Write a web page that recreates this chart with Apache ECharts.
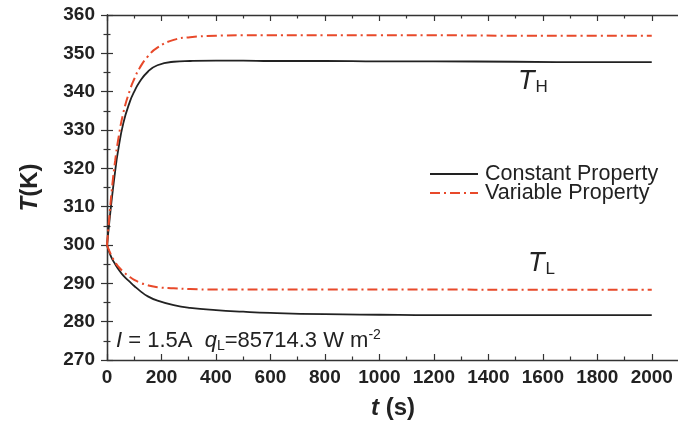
<!DOCTYPE html>
<html><head><meta charset="utf-8">
<script src="https://cdn.jsdelivr.net/npm/echarts@6/dist/echarts.min.js"></script>
<style>html,body{margin:0;padding:0;background:#fff}#c{width:678px;height:423px}</style>
</head><body><div id="c"></div>
<script>
const times = [0,10,20,30,40,60,85,100,120,150,185,245,305,400,500,600,800,1000,1200,1500,1800,2000];
const constantTH = [300,307,313.5,319.3,324.3,331.8,337.6,340.0,342.6,345.2,346.9,347.8,348.0,348.1,348.1,348.0,348.0,347.9,347.9,347.8,347.7,347.7];
const variableTH = [300,308.5,316,322,327,334.5,340.6,343.3,346.2,349.2,351.5,353.5,354.2,354.6,354.7,354.7,354.7,354.7,354.7,354.6,354.6,354.6];
const constantTL = [300,297.8,296.2,295.0,293.9,292.0,290.3,289.3,288.1,286.6,285.5,284.3,283.6,283.0,282.6,282.3,281.95,281.8,281.7,281.7,281.7,281.7];
const variableTL = [300,298.2,296.7,295.5,294.5,293.0,291.6,290.9,290.2,289.5,289.0,288.7,288.5,288.4,288.4,288.4,288.4,288.4,288.4,288.3,288.3,288.3];
const xTicks = {min:0, max:2100, interval:200};
const yTicks = {min:270, max:360, interval:10};
const seriesNames = ['Constant Property','Variable Property'];

const FONT = "'Liberation Sans', Arial, sans-serif";
const BLACK = '#222';
const RED = '#e8492a';
const pair = (xs, ys) => xs.map((x, i) => [x, ys[i]]);

function axisCommon(showLabel, isX) {
  return {
    type: 'value',
    min: isX ? xTicks.min : yTicks.min,
    max: isX ? xTicks.max : yTicks.max,
    interval: isX ? xTicks.interval : yTicks.interval,
    axisLine: {show: true, lineStyle: {color: '#333', width: 1.3}},
    axisTick: {show: true, inside: true, length: 6, lineStyle: {color: '#333', width: 1.2}},
    minorTick: {show: true, splitNumber: 2, length: 3.5, lineStyle: {color: '#333', width: 1.2}},
    splitLine: {show: false},
    minorSplitLine: {show: false},
    axisLabel: {show: showLabel, color: BLACK, fontSize: 19, fontWeight: 'bold', fontFamily: FONT,
      margin: isX ? 8 : 12, formatter: v => String(v)}
  };
}

const lineSeries = (name, ys, color, dashed) => ({
  name, type: 'line', data: pair(times, ys), smooth: 0.5, symbol: 'none',
  lineStyle: {color, width: dashed ? 2 : 1.8, type: dashed ? [10, 4, 2, 4] : 'solid'}, itemStyle: {color}
});

const chart = echarts.init(document.getElementById('c'), null, {renderer: 'canvas'});
chart.setOption({
  animation: false,
  backgroundColor: '#fff',
  grid: {left: 107, right: -1, top: 15, bottom: 63, containLabel: false, outerBoundsMode: 'none'},
  legend: {
    data: seriesNames, orient: 'vertical', left: 424, top: 158,
    itemWidth: 48, itemHeight: 14, itemGap: -3,
    itemStyle: {opacity: 0},
    textStyle: {fontSize: 21.5, lineHeight: 19, color: BLACK, fontFamily: FONT, padding: [0, 0, 0, 2]}
  },
  xAxis: [
    Object.assign(axisCommon(true, true), {position: 'bottom',
      name: '{i|t} (s)', nameLocation: 'middle', nameGap: 36,
      nameTextStyle: {fontSize: 24, fontWeight: 'bold', color: BLACK, fontFamily: FONT,
        rich: {i: {fontSize: 24, fontWeight: 'bold', fontStyle: 'italic', color: BLACK, fontFamily: FONT}}}}),
    Object.assign(axisCommon(false, true), {position: 'top'})
  ],
  yAxis: [
    Object.assign(axisCommon(true, false), {position: 'left',
      name: '{i|T}(K)', nameLocation: 'middle', nameGap: 65, nameRotate: 90,
      nameTextStyle: {fontSize: 24, fontWeight: 'bold', color: BLACK, fontFamily: FONT,
        rich: {i: {fontSize: 24, fontWeight: 'bold', fontStyle: 'italic', color: BLACK, fontFamily: FONT}}}}),
    Object.assign(axisCommon(false, false), {position: 'right'})
  ],
  series: [
    lineSeries(seriesNames[0], constantTH, BLACK, false),
    lineSeries(seriesNames[0], constantTL, BLACK, false),
    lineSeries(seriesNames[1], variableTH, RED, true),
    lineSeries(seriesNames[1], variableTL, RED, true)
  ],
  graphic: [
    {type: 'text', x: 518, y: 66, style: {text: '{t|T}{s|H}', fill: BLACK,
      rich: {t: {fontSize: 27, fontStyle: 'italic', fontFamily: FONT, fill: BLACK, lineHeight: 30},
             s: {fontSize: 17, fontFamily: FONT, fill: BLACK, verticalAlign: 'bottom', lineHeight: 17, padding: [0,0,0,1]}}}},
    {type: 'text', x: 528, y: 248, style: {text: '{t|T}{s|L}', fill: BLACK,
      rich: {t: {fontSize: 27, fontStyle: 'italic', fontFamily: FONT, fill: BLACK, lineHeight: 30},
             s: {fontSize: 17, fontFamily: FONT, fill: BLACK, verticalAlign: 'bottom', lineHeight: 17, padding: [0,0,0,1]}}}},
    {type: 'text', x: 116, y: 328, style: {text: '{i|I} = 1.5A  {i|q}{s|L}=85714.3 W m{p|-2}', fill: BLACK,
      rich: {i: {fontSize: 22, fontStyle: 'italic', fontFamily: FONT, fill: BLACK, lineHeight: 25},
             s: {fontSize: 14, fontFamily: FONT, fill: BLACK, verticalAlign: 'bottom', lineHeight: 14},
             p: {fontSize: 14, fontFamily: FONT, fill: BLACK, verticalAlign: 'top', lineHeight: 14}},
      font: "22px 'Liberation Sans', Arial, sans-serif", lineHeight: 25}}
  ]
});
</script></body></html>
